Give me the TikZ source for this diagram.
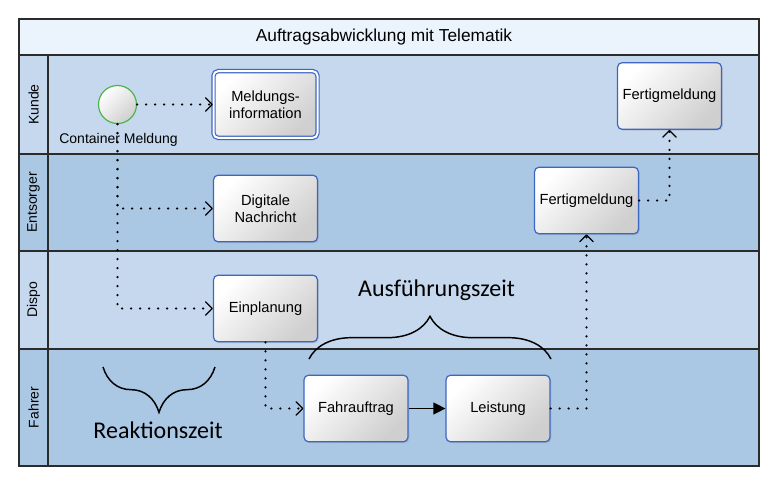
\documentclass[tikz,border=0pt]{standalone}
\usepackage{fontspec}
\setmainfont{Liberation Sans}
\newfontfamily\calfont{Carlito}
\usetikzlibrary{positioning, arrows.meta, shadows, decorations.pathreplacing}

\definecolor{titlebg}{HTML}{EBF3FD}
\definecolor{lanelight}{HTML}{C5D8EE}
\definecolor{lanedark}{HTML}{AAC7E3}
\definecolor{taskblue}{HTML}{3D66C2}
\definecolor{startgreen}{HTML}{4DB34F}
\definecolor{rulegray}{HTML}{2B2B2B}

\begin{document}
\begin{tikzpicture}[x=0.75pt, y=-0.75pt, on grid,
    task/.style={draw=taskblue, line width=0.9pt, rounded corners=3.5pt,
        minimum width=78pt, minimum height=50pt, align=center,
        top color=white, bottom color=black!19, shading angle=45,
        drop shadow={shadow xshift=1pt, shadow yshift=-1pt, opacity=0.25},
        font=\fontsize{11}{13}\selectfont},
    startev/.style={circle, draw=startgreen, line width=0.9pt, minimum size=28.5pt,
        top color=white, bottom color=black!19, shading angle=45},
    lanelabel/.style={rotate=90, font=\fontsize{10.5}{12}\selectfont},
    flow/.style={draw=black, line width=1.8pt, line cap=round, dash pattern=on 0pt off 6.75pt,
        -{Straight Barb[line width=0.9pt, length=5pt, width=10pt, round]}},
    seq/.style={draw=black, line width=0.9pt, -{Triangle[length=9pt, width=9pt]}},
    timebrace/.style={decorate, line width=1.1pt},
    timelabel/.style={font=\calfont\fontsize{18}{21}\selectfont}]

    \useasboundingbox (0,0) rectangle (776,482);

    % pool and lanes
    \fill[titlebg] (19,19) rectangle (759,55);
    \fill[lanelight] (19,55) rectangle (759,154);
    \fill[lanedark] (19,154) rectangle (759,251);
    \fill[lanelight] (19,251) rectangle (759,349);
    \fill[lanedark] (19,349) rectangle (759,466);
    \draw[rulegray, line width=1.4pt] (19,55) -- (759,55)
        (19,154) -- (759,154) (19,251) -- (759,251) (19,349) -- (759,349);
    \draw[rulegray, line width=1pt] (48,55) -- (48,466);
    \draw[rulegray, line width=1.4pt] (19,19) rectangle (759,466);

    \node[font=\fontsize{13}{15.5}\selectfont] (title) at (384,37.5) {Auftragsabwicklung mit Telematik};
    \node[lanelabel] (kunde) at (33.5,104.5) {Kunde};
    \node[lanelabel] (entsorger) at (33.5,202.5) {Entsorger};
    \node[lanelabel] (dispo) at (33.5,300) {Dispo};
    \node[lanelabel] (fahrer) at (33.5,407.5) {Fahrer};

    % events and tasks
    \node[startev] (start) at (117.5,104.5) {};
    \node[task, double=white, double distance=1.5pt] (meld) at (265.5,104.5) {Meldungs-\\information};
    \node[task] (dig) [below=78pt of meld] {Digitale\\Nachricht};
    \node[task] (einpl) [below=75pt of dig] {Einplanung};
    \node[task] (fahr) at (356,408.5) {Fahrauftrag};
    \node[task] (leist) [right=106.5pt of fahr] {Leistung};
    \node[task] (fertE) at (586.5,200.5) {Fertigmeldung};
    \node[task] (fertK) at (669.5,96) {Fertigmeldung};

    % flows
    \draw[flow] (start) -- (meld);
    \draw[flow] (start) |- (dig);
    \draw[flow] (start) |- (einpl);
    \draw[flow] (einpl) |- (fahr);
    \draw[seq] (fahr) -- (leist);
    \draw[flow] (leist) -| (fertE);
    \draw[flow] (fertE) -| (fertK);

    \node[font=\fontsize{10.5}{12.5}\selectfont] (startlabel) at (118.5,140) {Container Meldung};

    % time spans
    \draw[timebrace, decoration={brace, amplitude=32pt}] (309,359) -- (551,359);
    \node[timelabel] (ausf) at (436.5,290) {Ausführungszeit};
    \draw[timebrace, decoration={brace, mirror, amplitude=34pt}] (103,367) -- (215,367);
    \node[timelabel] (reak) at (158,430) {Reaktionszeit};
\end{tikzpicture}
\end{document}
